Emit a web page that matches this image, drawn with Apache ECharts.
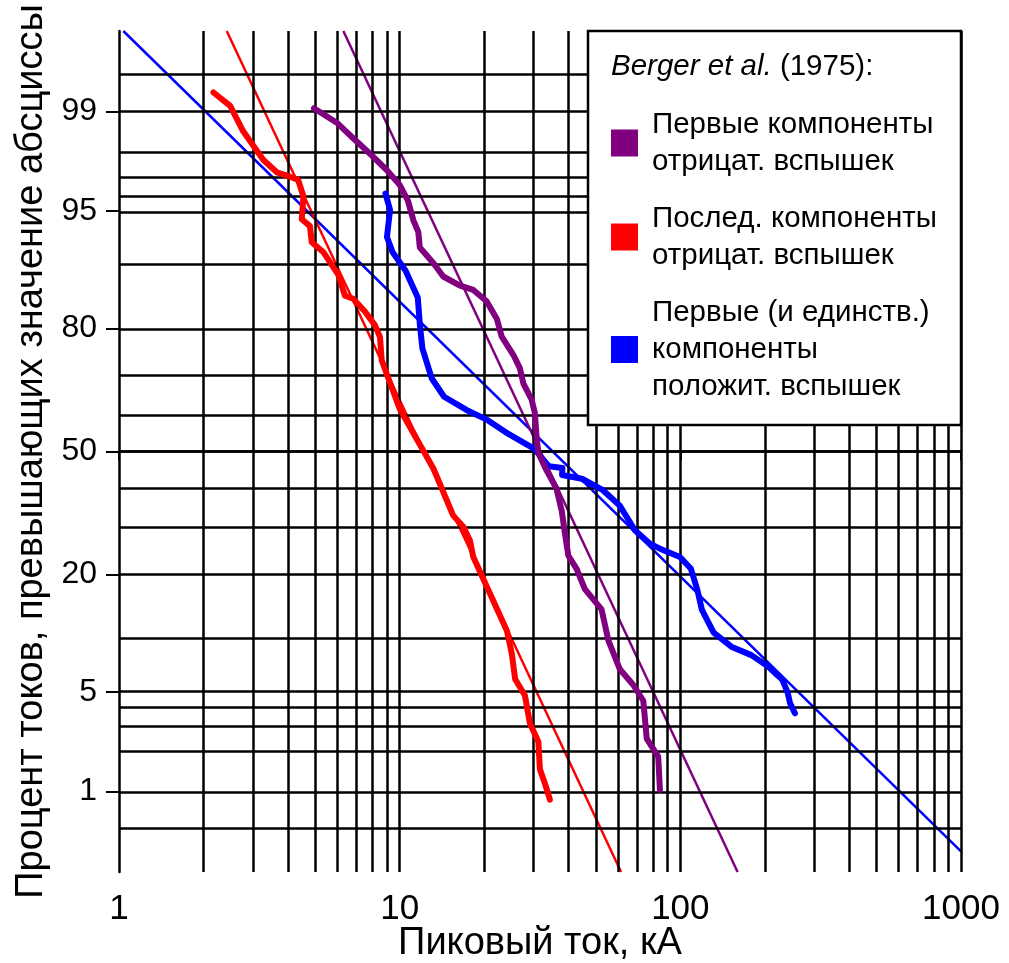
<!DOCTYPE html>
<html>
<head>
<meta charset="utf-8">
<script src="https://cdn.jsdelivr.net/npm/echarts@6/dist/echarts.min.js"></script>
<style>
html, body { margin: 0; padding: 0; background: #fff; }
#main { width: 1009px; height: 963px; }
</style>
</head>
<body>
<div id="main"></div>
<script>
var FONT = '"Liberation Sans", Arial, sans-serif';

// сетка вероятностной бумаги
var xGrid = [2, 3, 4, 5, 6, 7, 8, 9, 10, 20, 30, 40, 50, 60, 70, 80, 90, 100,
             200, 300, 400, 500, 600, 700, 800, 900, 1000];
var yGrid = [0.5, 1, 2, 3, 4, 5, 10, 20, 30, 40, 50, 60, 70, 80, 90, 95, 96, 97, 98, 99, 99.5, 99.8];
var yTicks = [1, 5, 20, 50, 80, 95, 99];
var yRange = [0.2, 99.8];

// [кА, %] - эмпирические кривые
var firstNeg = [[4.95, 99.06], [5.97, 98.78], [6.83, 98.4], [7.84, 97.92], [8.99, 97.3], [10.0, 96.6],
  [10.7, 95.7], [11.2, 94.3], [11.65, 93.36], [11.8, 91.87], [13.2, 90.13], [14.3, 88.45], [16.4, 87.2],
  [18.3, 86.56], [20.4, 84.8], [22.2, 81.78], [23.1, 78.4], [25.4, 74.6], [26.8, 71.6], [27.6, 67.9],
  [29.5, 63.95], [30.3, 60.5], [30.8, 53.3], [31.2, 49.6], [33.4, 44.8], [36.2, 40.0], [37.8, 34.2],
  [38.8, 28.8], [39.9, 23.8], [42.7, 21.1], [45.7, 17.3], [52.4, 14.0], [55.4, 9.8], [60.9, 6.8],
  [68.0, 5.5], [73.8, 4.4], [75.9, 2.47], [83.4, 1.84], [84.6, 1.03]];
var lastNeg = [[2.17, 99.3], [2.49, 99.1], [2.77, 98.58], [3.27, 97.7], [3.65, 97.2], [4.07, 97.0],
  [4.35, 96.84], [4.54, 95.97], [4.48, 94.4], [4.79, 93.85], [4.86, 92.4], [5.34, 91.4], [6.04, 88.7],
  [6.38, 85.7], [6.83, 85.2], [7.52, 83.1], [8.17, 80.6], [8.51, 78.3], [8.63, 73.4], [10.0, 61.5],
  [13.2, 45.3], [15.5, 33.1], [16.85, 30.3], [17.8, 27.1], [18.3, 23.5], [24.1, 11.0], [25.1, 8.3],
  [25.8, 5.95], [27.95, 4.75], [29.1, 3.15], [31.2, 2.35], [31.6, 1.48], [32.9, 1.16], [34.3, 0.86]];
var firstPos = [[8.90, 96.12], [9.24, 95.1], [9.01, 92.9], [9.43, 91.4], [10.5, 89.2], [11.6, 85.4],
  [11.8, 80.8], [12.05, 76.0], [13.0, 69.2], [14.4, 64.6], [17.3, 61.2], [20.6, 58.5], [24.4, 54.8],
  [30.1, 50.8], [34.0, 46.0], [38.0, 45.5], [37.9, 43.6], [44.6, 42.6], [53.0, 39.55], [60.9, 35.5],
  [68.9, 29.5], [77.9, 26.4], [84.6, 25.3], [99.7, 23.5], [109.1, 21.1], [115.1, 17.1], [119.4, 13.9],
  [131.4, 10.75], [152, 9.08], [179, 8.17], [205, 7.08], [231, 5.9], [241, 4.97], [246, 4.25], [256, 3.66]];

// логнормальные аппроксимации
var firstNegFit = [[6.30, 99.8], [160, 0.2]];
var lastNegFit = [[2.42, 99.8], [61.5, 0.2]];
var firstPosFit = [[1.036, 99.8], [1000, 0.31]];

var names = ['Первые компоненты\nотрицат. вспышек',
             'Послед. компоненты\nотрицат. вспышек',
             'Первые (и единств.)\nкомпоненты\nположит. вспышек'];

function probit(p) {
  var a = [-39.69683028665376, 220.9460984245205, -275.9285104469687, 138.3577518672690, -30.66479806614716, 2.506628277459239];
  var b = [-54.47609879822406, 161.5858368580409, -155.6989798598866, 66.80131188771972, -13.28068155288572];
  var c = [-0.007784894002430293, -0.3223964580411365, -2.400758277161838, -2.549732539343734, 4.374664141464968, 2.938163982698783];
  var d = [0.007784695709041462, 0.3224671290700398, 2.445134137142996, 3.754408661907416];
  var pl = 0.02425, q, r;
  if (p < pl) {
    q = Math.sqrt(-2 * Math.log(p));
    return (((((c[0]*q+c[1])*q+c[2])*q+c[3])*q+c[4])*q+c[5]) / ((((d[0]*q+d[1])*q+d[2])*q+d[3])*q+1);
  }
  if (p > 1 - pl) {
    q = Math.sqrt(-2 * Math.log(1 - p));
    return -(((((c[0]*q+c[1])*q+c[2])*q+c[3])*q+c[4])*q+c[5]) / ((((d[0]*q+d[1])*q+d[2])*q+d[3])*q+1);
  }
  q = p - 0.5; r = q * q;
  return (((((a[0]*r+a[1])*r+a[2])*r+a[3])*r+a[4])*r+a[5])*q / (((((b[0]*r+b[1])*r+b[2])*r+b[3])*r+b[4])*r+1);
}

function toZ(pts) {
  return pts.map(function (d) { return [d[0], probit(d[1] / 100)]; });
}

var zTicks = yTicks.map(function (p) { return probit(p / 100); });

function thick(name, color, data) {
  return {
    name: name, type: 'line', data: toZ(data), color: color,
    symbol: 'none', showSymbol: false, z: 5,
    lineStyle: { color: color, width: 6, join: 'round', cap: 'round' }
  };
}
function thin(color, data) {
  return {
    type: 'line', data: toZ(data), symbol: 'none', showSymbol: false, z: 4,
    lineStyle: { color: color, width: 2.5 }
  };
}

var gridLines = xGrid.map(function (v) { return { xAxis: v }; })
  .concat(yGrid.map(function (p) { return { yAxis: probit(p / 100) }; }));

var myChart = echarts.init(document.getElementById('main'));

option = {
  animation: false,
  backgroundColor: '#fff',
  grid: { left: 119, right: 48, top: 31, bottom: 91, containLabel: false, outerBoundsMode: 'none' },
  xAxis: {
    type: 'log', logBase: 10, min: 1, max: 1000,
    name: 'Пиковый ток, кА', nameLocation: 'middle', nameGap: 53, nameMoveOverlap: false,
    nameTextStyle: { fontSize: 38, color: '#000', fontFamily: FONT },
    axisLine: { lineStyle: { color: '#000', width: 2.5 } },
    axisTick: { length: 9, lineStyle: { color: '#000', width: 2 } },
    axisLabel: {
      fontSize: 35, color: '#000', fontFamily: FONT, margin: 20,
      formatter: function (v) { return String(Math.round(v)); }
    },
    splitLine: { show: false }, minorTick: { show: false }
  },
  yAxis: {
    type: 'value', min: probit(yRange[0] / 100), max: probit(yRange[1] / 100),
    name: 'Процент токов, превышающих значение абсциссы', nameLocation: 'middle', nameGap: 66,
    nameTextStyle: { fontSize: 38, color: '#000', fontFamily: FONT },
    axisLine: { lineStyle: { color: '#000', width: 2.5 } },
    axisTick: { customValues: zTicks, length: 13, lineStyle: { color: '#000', width: 2 } },
    axisLabel: {
      customValues: zTicks, fontSize: 32, color: '#000', fontFamily: FONT, margin: 22,
      formatter: function (v) {
        var best = yTicks[0], bd = 1e9;
        zTicks.forEach(function (z, i) {
          if (Math.abs(z - v) < bd) { bd = Math.abs(z - v); best = yTicks[i]; }
        });
        return String(best);
      }
    },
    splitLine: { show: false }
  },
  legend: {
    data: names, orient: 'vertical', left: 611, top: 106, padding: 0,
    itemWidth: 27, itemHeight: 27, itemGap: 20, icon: 'rect', selectedMode: false, z: 60,
    textStyle: { fontSize: 29.5, lineHeight: 37, color: '#000', fontFamily: FONT, padding: [0, 0, 0, 9] }
  },
  graphic: [
    {
      type: 'rect', z: 50, silent: true,
      shape: { x: 588, y: 31, width: 373, height: 394 },
      style: { fill: '#fff', stroke: '#000', lineWidth: 2.5 }
    },
    {
      type: 'text', z: 51, silent: true, x: 611, y: 67,
      style: {
        text: '{i|Berger et al.} (1975):',
        fontSize: 29.5, fontFamily: FONT, fill: '#000', verticalAlign: 'middle',
        rich: { i: { fontStyle: 'italic', fontSize: 29.5, fontFamily: FONT, fill: '#000' } }
      }
    }
  ],
  series: [
    {
      type: 'line', data: [[1, 0]], symbol: 'none', showSymbol: false, z: 1,
      lineStyle: { opacity: 0 },
      markLine: {
        silent: true, symbol: 'none', animation: false,
        label: { show: false },
        lineStyle: { color: '#000', width: 2.5, type: 'solid' },
        emphasis: { disabled: true },
        data: gridLines
      }
    },
    thin('#0000ff', firstPosFit),
    thin('#ff0000', lastNegFit),
    thin('#800080', firstNegFit),
    thick(names[2], '#0000ff', firstPos),
    thick(names[1], '#ff0000', lastNeg),
    thick(names[0], '#800080', firstNeg)
  ]
};

myChart.setOption(option);
</script>
</body>
</html>
